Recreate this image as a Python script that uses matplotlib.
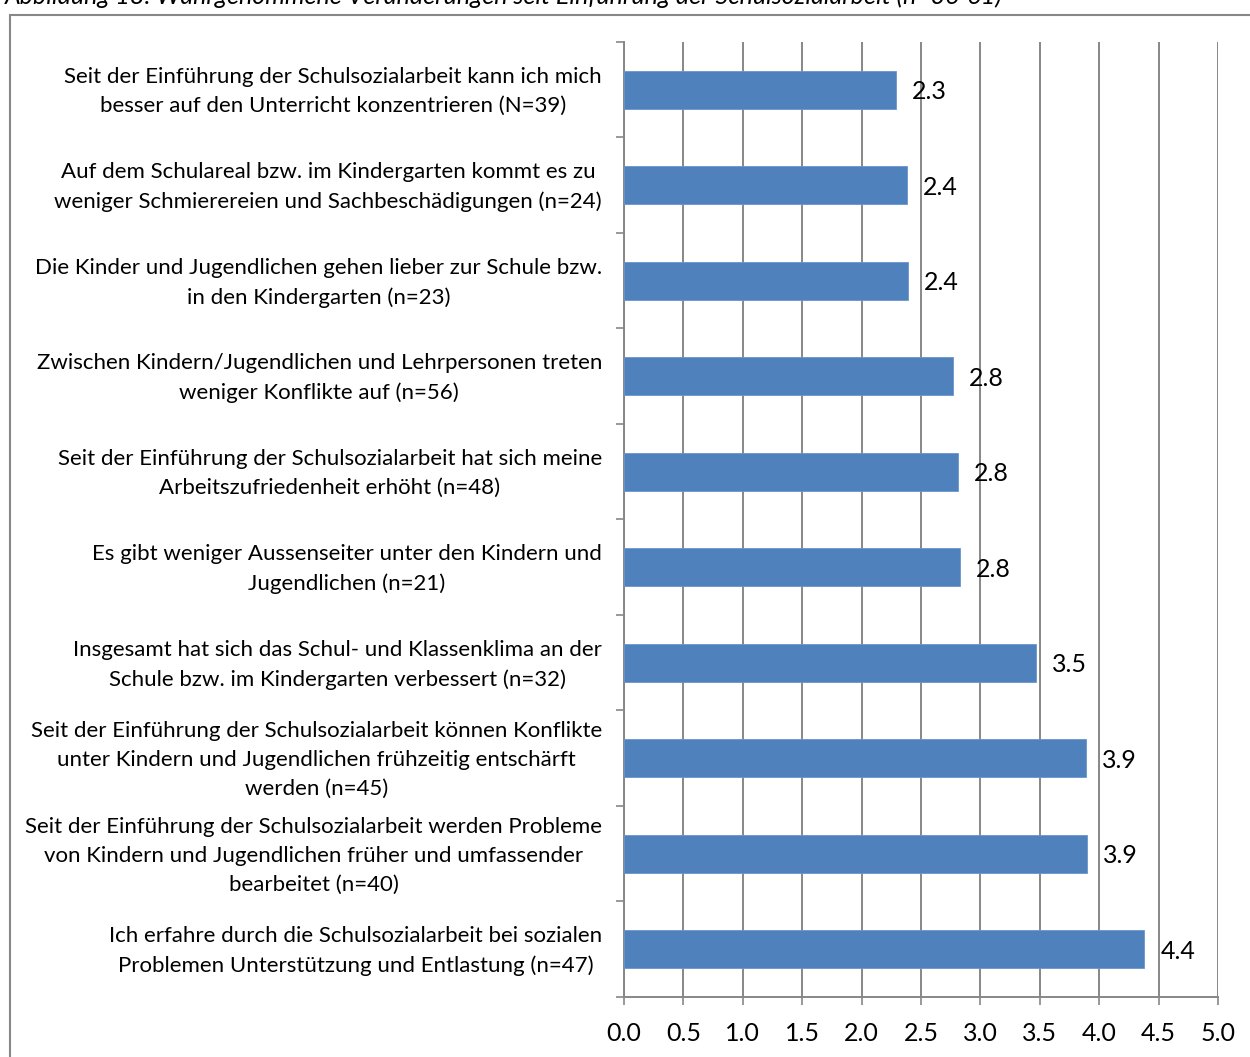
import matplotlib
matplotlib.use("Agg")
import matplotlib.pyplot as plt
from matplotlib.patches import Rectangle
import matplotlib.transforms as mtransforms
import numpy as np

categories = [
    "Seit der Einführung der Schulsozialarbeit kann ich mich\nbesser auf den Unterricht konzentrieren (N=39)",
    "Auf dem Schulareal bzw. im Kindergarten kommt es zu\nweniger Schmierereien und Sachbeschädigungen (n=24)",
    "Die Kinder und Jugendlichen gehen lieber zur Schule bzw.\nin den Kindergarten (n=23)",
    "Zwischen Kindern/Jugendlichen und Lehrpersonen treten\nweniger Konflikte auf (n=56)",
    "Seit der Einführung der Schulsozialarbeit hat sich meine\nArbeitszufriedenheit erhöht (n=48)",
    "Es gibt weniger Aussenseiter unter den Kindern und\nJugendlichen (n=21)",
    "Insgesamt hat sich das Schul- und Klassenklima an der\nSchule bzw. im Kindergarten verbessert (n=32)",
    "Seit der Einführung der Schulsozialarbeit können Konflikte\nunter Kindern und Jugendlichen frühzeitig entschärft\nwerden (n=45)",
    "Seit der Einführung der Schulsozialarbeit werden Probleme\nvon Kindern und Jugendlichen früher und umfassender\nbearbeitet (n=40)",
    "Ich erfahre durch die Schulsozialarbeit bei sozialen\nProblemen Unterstützung und Entlastung (n=47)",
]
values = [2.29, 2.38, 2.39, 2.77, 2.81, 2.83, 3.47, 3.89, 3.90, 4.38]
xticks = [0.0, 0.5, 1.0, 1.5, 2.0, 2.5, 3.0, 3.5, 4.0, 4.5, 5.0]
caption = "Abbildung 18: Wahrgenommene Veränderungen seit Einführung der Schulsozialarbeit (n=36-61)"

FONT = "Lato"
FS = 16
FSN = 18
GRAY = "#878787"
BAR = "#4F81BD"

fig = plt.figure(figsize=(12.5, 10.57), dpi=100)
ax = fig.add_axes([624/1250, 1-997/1057, (1218-624)/1250, (997-42)/1057])

y = np.arange(len(categories))
ax.barh(y, values, height=0.4, color=BAR, edgecolor="#6A95CB", linewidth=0.6, zorder=3)
ax.set_ylim(len(categories) - 0.5, -0.5)
ax.set_xlim(0, 5.0)

for yi, v in zip(y, values):
    ax.annotate(f"{v:.1f}", xy=(v, yi), xytext=(16, -2), textcoords="offset pixels",
                ha="left", va="center", fontsize=FSN, family=FONT, color="black", zorder=4)

ax.set_xticks(xticks)
ax.set_xticklabels([f"{t:.1f}" for t in xticks], fontsize=FSN, family=FONT)
ax.tick_params(axis="x", direction="out", length=6, width=1.2, color=GRAY, pad=12)
ax.xaxis.grid(True, color=GRAY, linewidth=1.4, zorder=0)
ax.set_axisbelow(True)

# y: category boundaries as ticks, labels drawn as text at centers
ax.set_yticks(np.arange(-0.5, len(categories) + 0.5, 1.0))
ax.set_yticklabels([])
ax.tick_params(axis="y", which="major", direction="out", length=6, width=1.2, color=GRAY)

blend = mtransforms.blended_transform_factory(ax.transAxes, ax.transData)
for yi, lab in zip(y, categories):
    ax.annotate(lab, xy=(0, yi), xycoords=blend, xytext=(-22, -2), textcoords="offset pixels",
                ha="right", va="center", multialignment="center", linespacing=1.55,
                fontsize=FS, family=FONT, color="black", annotation_clip=False)

for s in ["top", "right"]:
    ax.spines[s].set_visible(False)
for s in ["left", "bottom"]:
    ax.spines[s].set_color(GRAY)
    ax.spines[s].set_linewidth(1.4)

# outer chart border
fig.patches.append(Rectangle((10/1250, -0.1), 1.2, 0.1 + (1 - 15/1057),
                             transform=fig.transFigure, fill=False,
                             edgecolor=GRAY, linewidth=1.5))

fig.text(5/1250, 1 - 4/1057, caption, ha="left", va="baseline", fontsize=18,
         family=FONT, style="italic", color="black")

fig.savefig("out.png", dpi=100)
